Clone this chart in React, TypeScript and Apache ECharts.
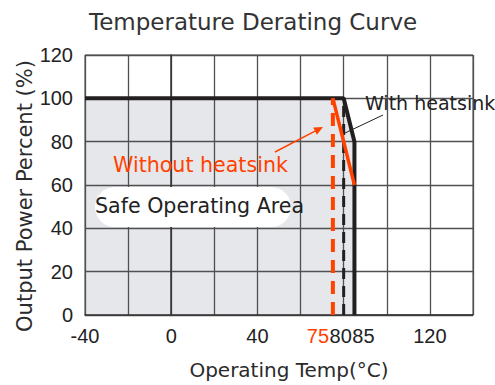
import React, { useEffect, useRef } from "react";
import * as echarts from "echarts";

const withHeatsink: [number, number][] = [[-40, 100], [80, 100], [85, 80], [85, 0]];
const withHeatsinkDashed: [number, number][] = [[80, 0], [80, 100]];
const withoutHeatsinkDashed: [number, number][] = [[75, 0], [75, 100]];
const withoutHeatsinkSlope: [number, number][] = [[75, 100], [85, 60]];
const xLabelValues = [-40, 0, 40, 75, 80, 85, 120];
const redLabelValues = [75];

const RED = "#ff4200";
const DARK = "#231f20";
const TXT = "#2b2b2b";
const SANS = '"DejaVu Sans", sans-serif';
const NUM = '"Liberation Sans", Arial, sans-serif';

export default function App() {
  const ref = useRef<HTMLDivElement>(null);
  useEffect(() => {
    if (!ref.current) return;
    const chart = echarts.init(ref.current, undefined, { renderer: "svg" });
    chart.setOption({
      animation: false,
      backgroundColor: "#ffffff",
      title: {
        text: "Temperature Derating Curve",
        left: 84,
        top: 5,
        textStyle: { fontSize: 23, fontWeight: "normal", color: "#333", fontFamily: SANS },
      },
      grid: { left: 85, right: 22, top: 55, bottom: 69, show: true, borderColor: "#444", borderWidth: 1 },
      xAxis: [
        {
          type: "value",
          min: -40,
          max: 140,
          interval: 20,
          z: 2,
          axisLine: { show: true, onZero: false, lineStyle: { color: "#333", width: 1.5 } },
          axisTick: { show: false },
          axisLabel: { show: false },
          splitLine: { show: true, lineStyle: { color: "#505050", width: 1.3 } },
        },
        {
          type: "value",
          min: -40,
          max: 140,
          interval: 5,
          position: "bottom",
          z: 2,
          axisLine: { show: false },
          axisTick: { show: false },
          splitLine: { show: false },
          axisLabel: {
            margin: 11,
            fontSize: 20,
            color: "#222",
            fontFamily: NUM,
            formatter: (v: number) => {
              if (!xLabelValues.includes(v)) return "";
              if (redLabelValues.includes(v)) return `{r|${v}}`;
              if (v === 80) return `{a|${v}}`;
              if (v === 85) return `{b|${v}}`;
              return String(v);
            },
            rich: {
              r: { color: RED, fontSize: 20, fontFamily: NUM, padding: [0, 30, 0, 0] },
              a: { color: "#222", fontSize: 20, fontFamily: NUM, padding: [0, 6, 0, 0] },
              b: { color: "#222", fontSize: 20, fontFamily: NUM, padding: [0, 0, 0, 18] },
            },
          },
          name: "Operating Temp(°C)",
          nameLocation: "middle",
          nameGap: 45,
          nameTextStyle: { fontSize: 20, color: TXT, fontFamily: SANS, padding: [0, 0, 0, 20] },
        },
      ],
      yAxis: {
        type: "value",
        min: 0,
        max: 120,
        interval: 20,
        z: 2,
        axisLine: { show: true, lineStyle: { color: "#333", width: 1.5 } },
        axisTick: { show: false },
        axisLabel: { margin: 12, fontSize: 20, color: "#222", fontFamily: NUM },
        splitLine: { show: true, lineStyle: { color: "#505050", width: 1.3 } },
      },
      series: [
        {
          type: "line",
          name: "area",
          data: withHeatsink,
          z: 1,
          symbol: "none",
          lineStyle: { width: 0, opacity: 0 },
          areaStyle: { color: "#e6e7eb", opacity: 1 },
          silent: true,
        },
        {
          type: "line",
          name: "With heatsink",
          data: withHeatsink,
          z: 3,
          symbol: "none",
          lineStyle: { color: DARK, width: 4 },
        },
        {
          type: "line",
          data: withHeatsinkDashed,
          z: 3,
          symbol: "none",
          lineStyle: { color: DARK, width: 3, type: [11, 7] },
        },
        {
          type: "line",
          data: withoutHeatsinkDashed,
          z: 3,
          symbol: "none",
          lineStyle: { color: RED, width: 4, type: [13, 8] },
        },
        {
          type: "line",
          name: "Without heatsink",
          data: withoutHeatsinkSlope,
          z: 4,
          symbol: "none",
          lineStyle: { color: RED, width: 3.5 },
        },
      ],
      graphic: [
        {
          type: "text", z: 11, x: 25, y: 196, rotation: Math.PI / 2,
          style: { text: "Output Power Percent (%)", fill: TXT, fontSize: 21, fontFamily: SANS, align: "center", verticalAlign: "middle", textAlign: "center", textVerticalAlign: "middle" },
        },
        { type: "rect", z: 10, shape: { x: 95, y: 187, width: 196, height: 40, r: 20 }, style: { fill: "#ffffff" } },
        {
          type: "text", z: 11, x: 95, y: 206,
          style: { text: "Safe Operating Area", fill: "#222", fontSize: 20.6, fontFamily: SANS, align: "left", verticalAlign: "middle", textAlign: "left", textVerticalAlign: "middle" },
        },
        {
          type: "text", z: 11, x: 113, y: 165,
          style: { text: "Without heatsink", fill: RED, fontSize: 20.6, fontFamily: SANS, align: "left", verticalAlign: "middle", textAlign: "left", textVerticalAlign: "middle" },
        },
        {
          type: "text", z: 11, x: 365, y: 103,
          style: { text: "With heatsink", fill: "#222", fontSize: 19, fontFamily: SANS, align: "left", verticalAlign: "middle", textAlign: "left", textVerticalAlign: "middle" },
        },
        { type: "line", z: 11, shape: { x1: 383, y1: 115, x2: 345, y2: 133 }, style: { stroke: "#222", lineWidth: 1 } },
        { type: "line", z: 11, shape: { x1: 275, y1: 152, x2: 316, y2: 130.7 }, style: { stroke: RED, lineWidth: 1.5 } },
        { type: "polygon", z: 11, shape: { points: [[323, 127], [316.9, 134.7], [313.2, 127.6]] }, style: { fill: RED } },
      ],
    });
    return () => chart.dispose();
  }, []);
  return <div ref={ref} style={{ width: 495, height: 385, position: "absolute", left: 0, top: 0 }} />;
}
